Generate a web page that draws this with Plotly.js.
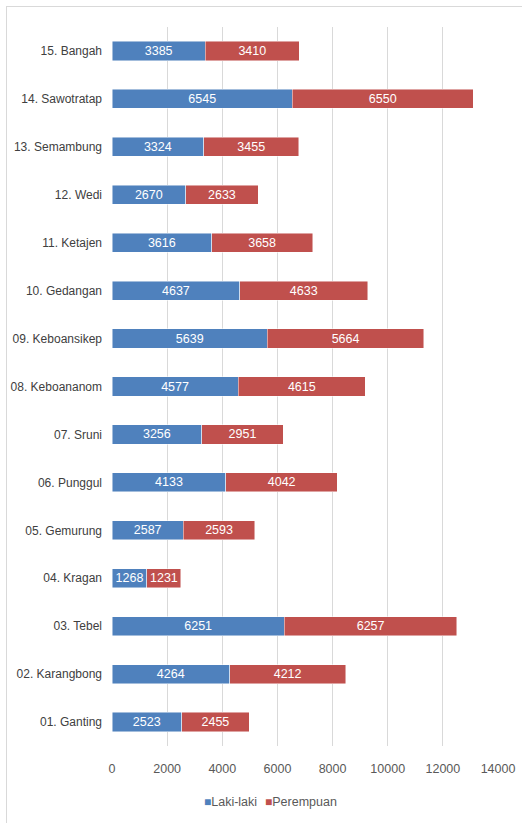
<!DOCTYPE html>
<html>
<head>
<meta charset="utf-8">
<script src="https://cdn.plot.ly/plotly-3.0.1.min.js"></script>
<style>
html,body{margin:0;padding:0;background:#fff;}
#wrap{position:absolute;left:0;top:0;width:522px;height:823px;}
#frame{position:absolute;left:6px;top:6px;width:540px;height:840px;border-left:1.5px solid #d9d9d9;border-top:1.5px solid #d9d9d9;pointer-events:none;}
#chart{position:absolute;left:0;top:0;width:522px;height:823px;}
</style>
</head>
<body>
<div id="wrap"><div id="chart"></div><div id="frame"></div></div>
<script>
const categories = ["01. Ganting","02. Karangbong","03. Tebel","04. Kragan","05. Gemurung","06. Punggul","07. Sruni","08. Keboananom","09. Keboansikep","10. Gedangan","11. Ketajen","12. Wedi","13. Semambung","14. Sawotratap","15. Bangah"];
const lakiLaki = [2523,4264,6251,1268,2587,4133,3256,4577,5639,4637,3616,2670,3324,6545,3385];
const perempuan = [2455,4212,6257,1231,2593,4042,2951,4615,5664,4633,3658,2633,3455,6550,3410];
const xTicks = [0,2000,4000,6000,8000,10000,12000,14000];
const seriesNames = ["Laki-laki","Perempuan"];
const seriesColors = ["#4f81bd","#c0504d"];

const font = "'Liberation Sans', Arial, sans-serif";

function makeTrace(i, vals) {
  return {
    type: 'bar', orientation: 'h', y: categories, x: vals, name: seriesNames[i],
    text: vals.map(String),
    textposition: 'inside', insidetextanchor: 'middle', constraintext: 'none',
    textfont: {color: '#ffffff', size: 12.5, family: font},
    marker: {color: seriesColors[i], line: {color: 'rgba(255,255,255,0.6)', width: 0.8}},
    width: 0.4, showlegend: false
  };
}
const traces = [makeTrace(0, lakiLaki), makeTrace(1, perempuan)];

const layout = {
  width: 522, height: 823,
  barmode: 'stack',
  paper_bgcolor: '#ffffff', plot_bgcolor: '#ffffff',
  margin: {l: 112, r: 24, t: 27, b: 77},
  font: {family: font, color: '#595959', size: 12},
  xaxis: {
    range: [0, 14000], tickvals: xTicks, ticktext: xTicks.map(String),
    showgrid: true, gridcolor: '#d9d9d9', gridwidth: 1.2,
    zeroline: false, showline: false, ticks: '',
    ticklabelstandoff: 13, tickfont: {size: 12.5, color: '#595959', family: font},
    fixedrange: true
  },
  yaxis: {
    type: 'category', range: [-0.5, 14.5],
    showgrid: false, zeroline: false, showline: false, ticks: '',
    ticklabelstandoff: 9, tickfont: {size: 12, color: '#404040', family: font},
    fixedrange: true
  },
  showlegend: false,
  annotations: [
    {xref: 'paper', yref: 'paper', x: 0.306, y: -0.078, xanchor: 'center', yanchor: 'middle', showarrow: false,
     text: "<span style='color:" + seriesColors[0] + ";font-size:12px'>■</span>" + seriesNames[0],
     font: {size: 12.5, color: '#595959', family: font}},
    {xref: 'paper', yref: 'paper', x: 0.49, y: -0.078, xanchor: 'center', yanchor: 'middle', showarrow: false,
     text: "<span style='color:" + seriesColors[1] + ";font-size:12px'>■</span>" + seriesNames[1],
     font: {size: 12.5, color: '#595959', family: font}}
  ]
};

Plotly.newPlot('chart', traces, layout, {displayModeBar: false, staticPlot: true});
</script>
</body>
</html>
